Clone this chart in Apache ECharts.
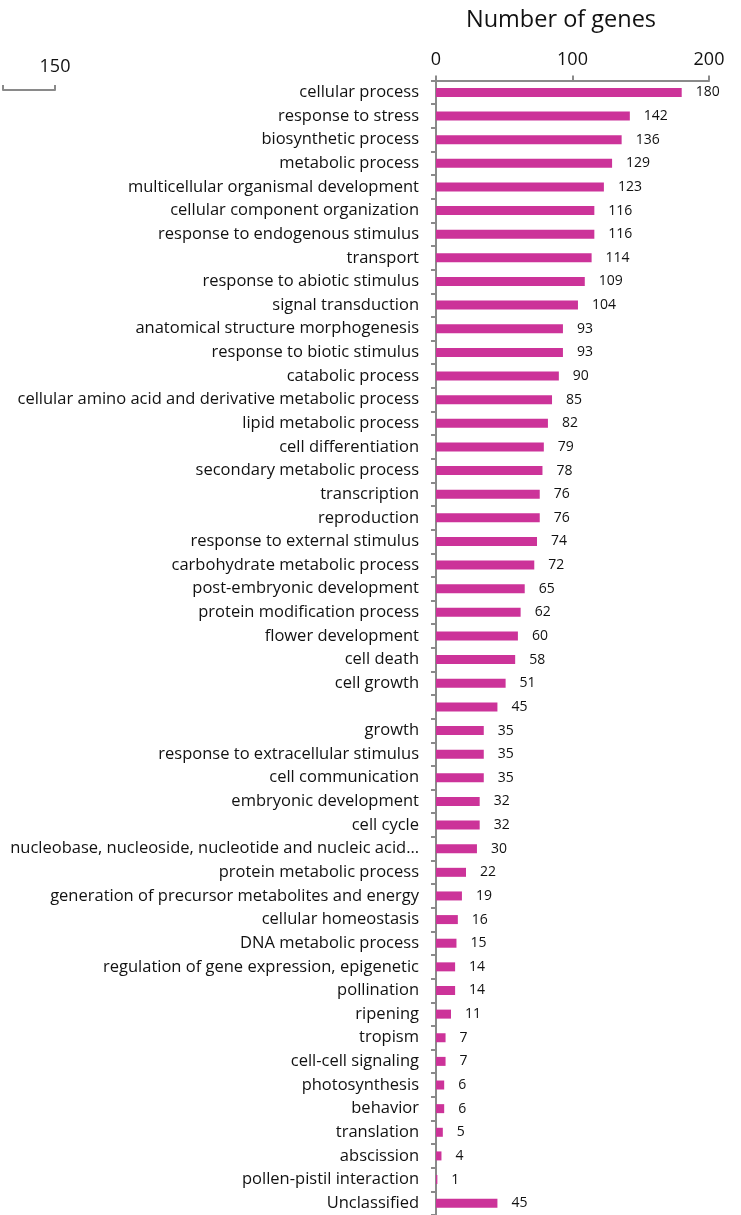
<!DOCTYPE html>
<html>
<head>
<meta charset="utf-8">
<script src="https://cdn.jsdelivr.net/npm/echarts@6/dist/echarts.min.js"></script>
<style>
html,body{margin:0;padding:0;background:#fff;}
#chart{width:741px;height:1215px;}
</style>
</head>
<body>
<div id="chart"></div>
<script>
const categories = [
  "cellular process","response to stress","biosynthetic process","metabolic process",
  "multicellular organismal development","cellular component organization",
  "response to endogenous stimulus","transport","response to abiotic stimulus",
  "signal transduction","anatomical structure morphogenesis","response to biotic stimulus",
  "catabolic process","cellular amino acid and derivative metabolic process",
  "lipid metabolic process","cell differentiation","secondary metabolic process",
  "transcription","reproduction","response to external stimulus",
  "carbohydrate metabolic process","post-embryonic development",
  "protein modification process","flower development","cell death","cell growth","",
  "growth","response to extracellular stimulus","cell communication",
  "embryonic development","cell cycle",
  "nucleobase, nucleoside, nucleotide and nucleic acid\u2026",
  "protein metabolic process","generation of precursor metabolites and energy",
  "cellular homeostasis","DNA metabolic process",
  "regulation of gene expression, epigenetic","pollination","ripening","tropism",
  "cell-cell signaling","photosynthesis","behavior","translation","abscission",
  "pollen-pistil interaction","Unclassified"
];
const geneCounts = [
  180,142,136,129,123,116,116,114,109,104,93,93,90,85,82,79,78,76,76,74,72,65,62,60,58,51,45,
  35,35,35,32,32,30,22,19,16,15,14,14,11,7,7,6,6,5,4,1,45
];
const mainTicks = { min: 0, max: 200, interval: 100 };
const strayTicks = { min: 100, max: 150, interval: 50 };

const FONT = '"Open Sans", "Liberation Sans", sans-serif';
const chart = echarts.init(document.getElementById('chart'), null, { renderer: 'canvas' });
chart.setOption({
  animation: false,
  backgroundColor: '#ffffff',
  title: {
    text: 'Number of genes',
    left: 461, top: 3,
    textStyle: { fontFamily: FONT, fontSize: 23.5, fontWeight: 'normal', color: '#111' }
  },
  grid: [
    { left: 436, top: 80.6, width: 273, height: 1135.7, containLabel: false },
    { left: 0, top: 90, width: 55, height: 50, containLabel: false }
  ],
  xAxis: [
    {
      gridIndex: 0, type: 'value', position: 'top',
      min: mainTicks.min, max: mainTicks.max, interval: mainTicks.interval,
      splitLine: { show: false },
      axisLine: { show: true, onZero: false, lineStyle: { color: '#8a8a8a', width: 2 } },
      axisTick: { show: true, inside: false, length: 5, lineStyle: { color: '#8a8a8a', width: 2 } },
      axisLabel: { fontFamily: FONT, fontSize: 18, color: '#111', margin: 12 }
    },
    {
      gridIndex: 1, type: 'value', position: 'top',
      min: strayTicks.min, max: strayTicks.max, interval: strayTicks.interval,
      splitLine: { show: false },
      axisLine: { show: true, onZero: false, lineStyle: { color: '#8a8a8a', width: 2 } },
      axisTick: { show: true, length: 5, lineStyle: { color: '#8a8a8a', width: 2 } },
      axisLabel: { fontFamily: FONT, fontSize: 18, color: '#111', margin: 14,
        formatter: v => (v === 150 ? '150' : '') }
    }
  ],
  yAxis: [
    {
      gridIndex: 0, type: 'category', inverse: true, data: categories,
      axisLine: { show: true, lineStyle: { color: '#8a8a8a', width: 2 } },
      axisTick: { show: true, length: 5, lineStyle: { color: '#8a8a8a', width: 2 } },
      axisLabel: { interval: 0, fontFamily: FONT, fontSize: 16.5, color: '#111', margin: 17 }
    },
    { gridIndex: 1, type: 'value', show: false }
  ],
  series: [
    {
      type: 'bar', xAxisIndex: 0, yAxisIndex: 0,
      data: geneCounts,
      barWidth: 9,
      itemStyle: { color: '#CC3399' },
      label: { show: true, position: 'right', distance: 14, fontFamily: FONT, fontSize: 14, color: '#111' }
    }
  ]
});
</script>
</body>
</html>
